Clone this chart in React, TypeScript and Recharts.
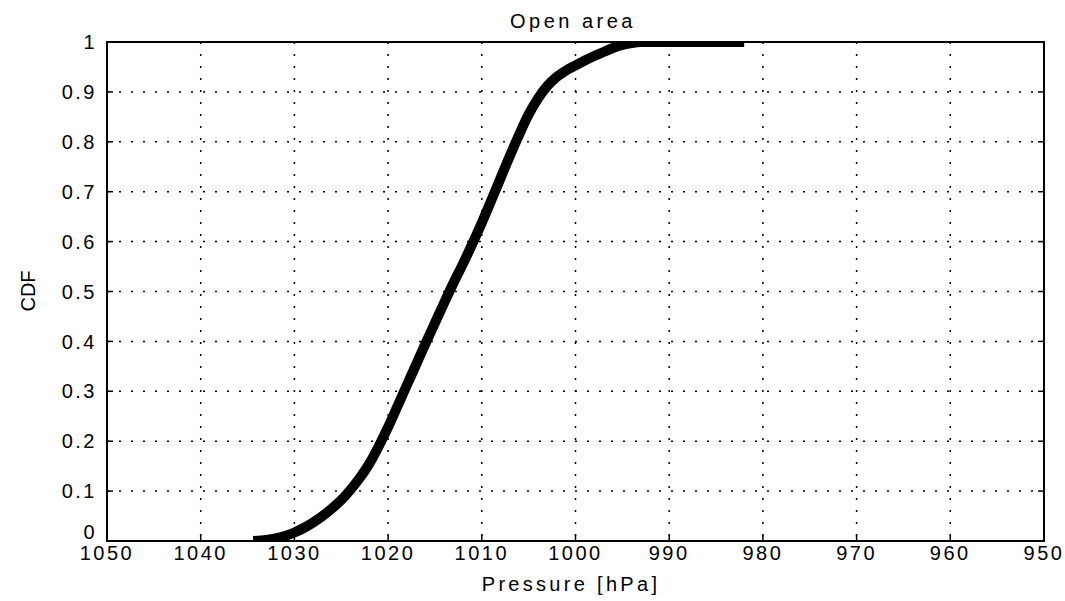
import { LineChart, Line, XAxis, YAxis, CartesianGrid, ReferenceArea } from "recharts";

// empirical CDF of surface pressure, open area
const pressure = [
  1034.4, 1033, 1032, 1031, 1030, 1029, 1028, 1027, 1026, 1025, 1024, 1023, 1022, 1021,
  1020, 1019, 1018, 1017, 1016, 1015, 1014, 1013, 1012, 1011, 1010, 1009, 1008, 1007,
  1006, 1005, 1004, 1003, 1002, 1001, 1000, 999, 998, 997, 996, 995, 994, 993, 982,
];
const cdf = [
  0, 0.002, 0.005, 0.01, 0.017, 0.026, 0.037, 0.05, 0.065, 0.082, 0.103, 0.127, 0.155, 0.19,
  0.228, 0.27, 0.312, 0.354, 0.396, 0.437, 0.478, 0.518, 0.556, 0.596, 0.638, 0.682, 0.727, 0.772,
  0.815, 0.855, 0.887, 0.912, 0.93, 0.943, 0.953, 0.963, 0.972, 0.98, 0.988, 0.994, 0.998, 1, 1,
];
const xTicks = [950, 960, 970, 980, 990, 1000, 1010, 1020, 1030, 1040, 1050];
const yTicks = [0, 0.1, 0.2, 0.3, 0.4, 0.5, 0.6, 0.7, 0.8, 0.9, 1];

const data = pressure.map((p, i) => ({ p, cdf: cdf[i] }));

const font = "'Liberation Sans', Arial, Helvetica, sans-serif";
const tickStyle = { fontSize: 20, fill: "#000", fontFamily: font, letterSpacing: 2.5 };
const tickLine = { stroke: "#000", strokeWidth: 1.5 };

// y labels; the 0 sits higher so it clears the 1050 below it
const YTick = (props: any) => {
  const { x, y, payload } = props;
  const lift = payload.value === 0 ? -9 : 0;
  return (
    <text x={x} y={y + lift} dy="0.355em" textAnchor="end" {...tickStyle}>
      {payload.value}
    </text>
  );
};

const NoLabel = () => <g />;

export default function App() {
  return (
    <div style={{ position: "absolute", left: 0, top: 0, width: 1065, height: 601, background: "#fff" }}>
      <LineChart
        width={1065}
        height={601}
        data={data}
        margin={{ top: 0, right: 0, bottom: 0, left: 0 }}
      >
        <CartesianGrid stroke="#000" strokeWidth={1.5} strokeDasharray="2 10" />
        <XAxis
          dataKey="p"
          type="number"
          domain={[950, 1050]}
          ticks={xTicks}
          reversed
          height={60}
          interval={0}
          tickSize={-6}
          tickMargin={11}
          tick={tickStyle}
          axisLine={{ stroke: "#000", strokeWidth: 2 }}
          tickLine={tickLine}
          allowDataOverflow
        />
        <XAxis
          xAxisId="top"
          orientation="top"
          type="number"
          domain={[950, 1050]}
          ticks={xTicks}
          reversed
          height={42}
          interval={0}
          tickSize={-6}
          tick={NoLabel}
          axisLine={{ stroke: "#000", strokeWidth: 2 }}
          tickLine={tickLine}
          allowDataOverflow
        />
        <YAxis
          type="number"
          domain={[0, 1]}
          ticks={yTicks}
          width={107}
          interval={0}
          tickSize={-6}
          tickMargin={16}
          tick={YTick}
          axisLine={{ stroke: "#000", strokeWidth: 2 }}
          tickLine={tickLine}
          allowDataOverflow
        />
        <YAxis
          yAxisId="right"
          orientation="right"
          type="number"
          domain={[0, 1]}
          ticks={yTicks}
          width={21}
          interval={0}
          tickSize={-6}
          tick={NoLabel}
          axisLine={{ stroke: "#000", strokeWidth: 2 }}
          tickLine={tickLine}
          allowDataOverflow
        />
        <ReferenceArea x1={1050} x2={950} y1={0} y2={1} fill="none" stroke="#000" strokeWidth={2} ifOverflow="visible" />
        <Line
          dataKey="cdf"
          type="monotone"
          stroke="#000"
          strokeWidth={10}
          dot={false}
          isAnimationActive={false}
        />
        <text x={573} y={28} textAnchor="middle" fontSize={20} fontFamily={font} letterSpacing={3.5}>
          Open area
        </text>
        <text x={571} y={591} textAnchor="middle" fontSize={20} fontFamily={font} letterSpacing={3.3}>
          Pressure [hPa]
        </text>
        <text
          x={0}
          y={0}
          transform="translate(35 291) rotate(-90)"
          textAnchor="middle"
          fontSize={20}
          fontFamily={font}
        >
          CDF
        </text>
      </LineChart>
    </div>
  );
}
